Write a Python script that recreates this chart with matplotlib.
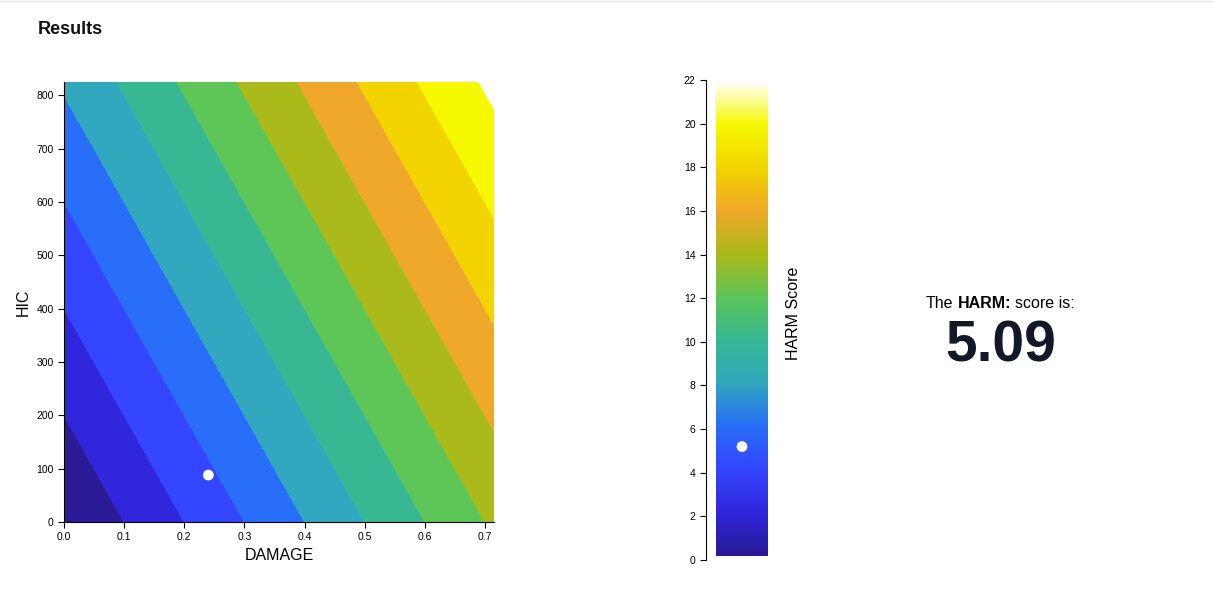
import numpy as np
import matplotlib
matplotlib.use("Agg")
import matplotlib.pyplot as plt
from matplotlib.colors import ListedColormap, LinearSegmentedColormap

plt.rcParams["font.family"] = "Liberation Sans"

# Data
damage_corners = [0.0, 0.715]
hic_corners = [0.0, 825.0]
score_corners = [[0.0, 14.3], [8.25, 22.55]]  # rows: hic, cols: damage
levels = [0, 2, 4, 6, 8, 10, 12, 14, 16, 18, 20, 22]
band_colors = ["#2a1a95", "#3026dc", "#3346fd", "#296ef8", "#31a8bd", "#37b893",
               "#5ec557", "#aaba1a", "#f0a82a", "#f2d500", "#f7f900"]
point_damage = 0.24
point_hic = 88
harm_score = 5.09
bar_point = 5.2
xticks = [0.0, 0.1, 0.2, 0.3, 0.4, 0.5, 0.6, 0.7]
yticks = [0, 100, 200, 300, 400, 500, 600, 700, 800]
cticks = list(range(0, 23, 2))

W, H = 1213, 613
fig = plt.figure(figsize=(W/100, H/100), dpi=100)
fig.text(38/W, 1-30/H, "Results", fontsize=13, fontweight="bold", va="center", color="#111")
fig.add_artist(plt.Line2D([0, 1], [1-1/H, 1-1/H], color="#e5e5e5", lw=1))

ax = fig.add_axes([64/W, 1-522/H, 430/W, 440/H])
X, Y = np.meshgrid(damage_corners, hic_corners)
ax.contourf(X, Y, np.array(score_corners), levels=levels, cmap=ListedColormap(band_colors))
ax.scatter([point_damage], [point_hic], s=60, color="white", zorder=5, edgecolors="none")
ax.set_xlim(0, 0.715); ax.set_ylim(0, 825)
ax.set_xticks(xticks); ax.set_yticks(yticks)
ax.set_xticklabels([f"{v:.1f}" for v in xticks], fontsize=7.5)
ax.set_yticklabels([str(v) for v in yticks], fontsize=7.5)
ax.tick_params(length=4, width=0.8)
for s in ["top", "right"]:
    ax.spines[s].set_visible(False)
ax.set_xlabel("DAMAGE", fontsize=11.5)
ax.set_ylabel("HIC", fontsize=11.5)

cax = fig.add_axes([706/W, 1-560/H, 62/W, 480/H])
stops = [l/22 for l in levels]
cols = band_colors + ["#ffffff"]
grad = LinearSegmentedColormap.from_list("g", list(zip(stops, cols)))
vals = np.linspace(0, 22, 400).reshape(-1, 1)
cax.imshow(vals, extent=[10, 62, 0.2, 22], origin="lower", aspect="auto", cmap=grad, vmin=0, vmax=22)
cax.scatter([36], [bar_point], s=60, color="white", zorder=5, edgecolors="none")
cax.set_xlim(0, 62); cax.set_ylim(0, 22)
cax.set_xticks([]); cax.set_yticks(cticks)
cax.set_yticklabels([str(v) for v in cticks], fontsize=7.5)
cax.tick_params(length=4, width=0.8)
for s in ["top", "right", "bottom"]:
    cax.spines[s].set_visible(False)
fig.text(793/W, 1-313/H, "HARM Score", rotation=90, fontsize=11.5, va="center", ha="center")

t1 = fig.text(926/W, 1-304/H, "The", fontsize=11.5, ha="left", va="center")
t2 = fig.text(0, 0, "HARM:", fontsize=11.5, fontweight="bold", ha="left", va="center")
fig.canvas.draw()
r = fig.canvas.get_renderer()
e1 = t1.get_window_extent(r)
t2.set_position(((e1.x1 + 4)/W, 1-304/H))
e2 = t2.get_window_extent(r)
fig.text((e2.x1 + 4)/W, 1-304/H, "score is:", fontsize=11.5, ha="left", va="center")
fig.text(1001/W, 1-346/H, f"{harm_score:.2f}", fontsize=41, fontweight="bold", ha="center", va="center", color="#111827")

fig.savefig("out.png", dpi=100)
